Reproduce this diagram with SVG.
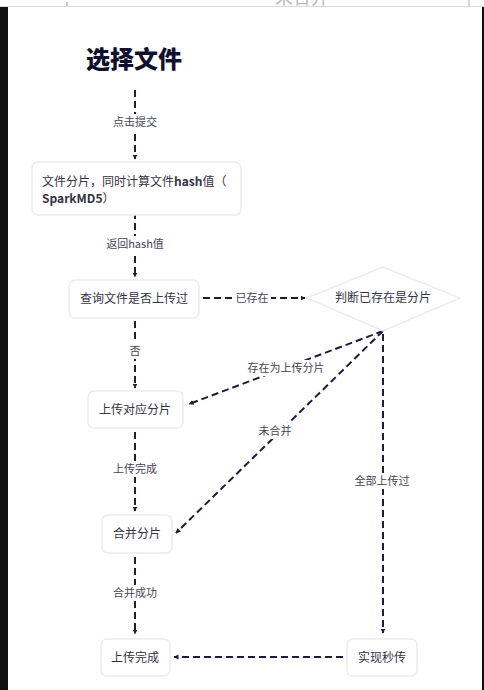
<svg xmlns="http://www.w3.org/2000/svg" width="484" height="690" viewBox="0 0 484 690">
<defs>
<marker id="ah" viewBox="0 0 10 10" refX="9" refY="5" markerWidth="5" markerHeight="5" orient="auto-start-reverse" markerUnits="userSpaceOnUse">
<path d="M0,0 L10,5 L0,10 z" fill="#1c1c3c"/>
</marker>
<clipPath id="topclip"><rect x="0" y="0" width="484" height="6"/></clipPath>
</defs>
<style>
.node{fill:#ffffff;stroke:#ececec;stroke-width:1.5}
.t{font-family:"Noto Sans CJK SC","Noto Sans",sans-serif;font-size:12px;fill:#333344}
.lbl{font-family:"Noto Sans CJK SC","Noto Sans",sans-serif;font-size:11px;fill:#444455}
.bg{fill:#ffffff}
.c{fill:none;stroke:#1c1c3c;stroke-width:2;stroke-dasharray:7 4;marker-end:url(#ah)}
</style>
<rect x="0" y="0" width="484" height="690" fill="#ffffff"/>
<g id="frame">
<g clip-path="url(#topclip)">
<text x="302" y="4" text-anchor="middle" font-family="Noto Sans CJK SC,sans-serif" font-size="18" fill="#b8b8c4">未合并</text>
</g>
<line x1="67" y1="2" x2="67" y2="6" stroke="#c8c8d0" stroke-width="2"/>
<line x1="469" y1="0" x2="469" y2="6" stroke="#c8c8d0" stroke-width="1.5"/>
<line x1="0" y1="6.5" x2="484" y2="6.5" stroke="#d8d8dc" stroke-width="1"/>
<rect x="0" y="7" width="8" height="683" fill="#111111"/>
<rect x="482" y="7" width="2" height="683" fill="#111111"/>
</g>
<g id="connectors">
<path class="c" d="M135,90 L135,159"/>
<path class="c" d="M135,212 L135,277"/>
<path class="c" d="M203,298 L305,298"/>
<path class="c" d="M135,321 L135,388"/>
<path class="c" d="M383,331 L189,404"/>
<path class="c" d="M383,331 L176,533"/>
<path class="c" d="M383,334 L383,633"/>
<path class="c" d="M135,432 L135,511"/>
<path class="c" d="M135,557 L135,634"/>
<path class="c" d="M343,657 L174,657"/>
<rect class="bg" x="110" y="114" width="50" height="16"/>
<text class="lbl" x="135" y="126" text-anchor="middle">点击提交</text>
<rect class="bg" x="103" y="236" width="64" height="16"/>
<text class="lbl" x="135" y="248" text-anchor="middle">返回hash值</text>
<rect class="bg" x="234" y="290" width="37" height="16"/>
<text class="lbl" x="252" y="302" text-anchor="middle">已存在</text>
<rect class="bg" x="127" y="343" width="16" height="16"/>
<text class="lbl" x="135" y="355" text-anchor="middle">否</text>
<rect class="bg" x="244" y="360" width="84" height="16"/>
<text class="lbl" x="286" y="372" text-anchor="middle">存在为上传分片</text>
<rect class="bg" x="257" y="423" width="37" height="16"/>
<text class="lbl" x="275" y="435" text-anchor="middle">未合并</text>
<rect class="bg" x="352" y="473" width="60" height="16"/>
<text class="lbl" x="382" y="485" text-anchor="middle">全部上传过</text>
<rect class="bg" x="110" y="461" width="50" height="16"/>
<text class="lbl" x="135" y="473" text-anchor="middle">上传完成</text>
<rect class="bg" x="110" y="585" width="50" height="16"/>
<text class="lbl" x="135" y="597" text-anchor="middle">合并成功</text>
</g>
<g id="title">
<text x="134" y="68" text-anchor="middle" font-family="Noto Sans CJK SC,sans-serif" font-size="24" font-weight="900" fill="#10102e">选择文件</text>
</g>
<g id="split">
<rect class="node" x="32" y="162" width="209" height="53" rx="6"/>
<text class="t" x="42" y="186">文件分片，同时计算文件<tspan font-weight="bold">hash</tspan>值（</text>
<text class="t" x="42" y="203"><tspan font-weight="bold">SparkMD5</tspan>）</text>
</g>
<g id="query">
<rect class="node" x="69" y="280" width="130" height="38" rx="6"/>
<text class="t" x="134" y="303" text-anchor="middle">查询文件是否上传过</text>
</g>
<g id="judge">
<path class="node" d="M307,298 L383,267 L460,298 L383,331 Z"/>
<text class="t" x="383" y="302" text-anchor="middle">判断已存在是分片</text>
</g>
<g id="upload">
<rect class="node" x="88" y="391" width="95" height="37" rx="6"/>
<text class="t" x="135" y="414" text-anchor="middle">上传对应分片</text>
</g>
<g id="merge">
<rect class="node" x="102" y="515" width="70" height="38" rx="6"/>
<text class="t" x="137" y="538" text-anchor="middle">合并分片</text>
</g>
<g id="done">
<rect class="node" x="101" y="639" width="69" height="37" rx="6"/>
<text class="t" x="135" y="662" text-anchor="middle">上传完成</text>
</g>
<g id="instant">
<rect class="node" x="347" y="639" width="70" height="37" rx="6"/>
<text class="t" x="382" y="662" text-anchor="middle">实现秒传</text>
</g>
</svg>
